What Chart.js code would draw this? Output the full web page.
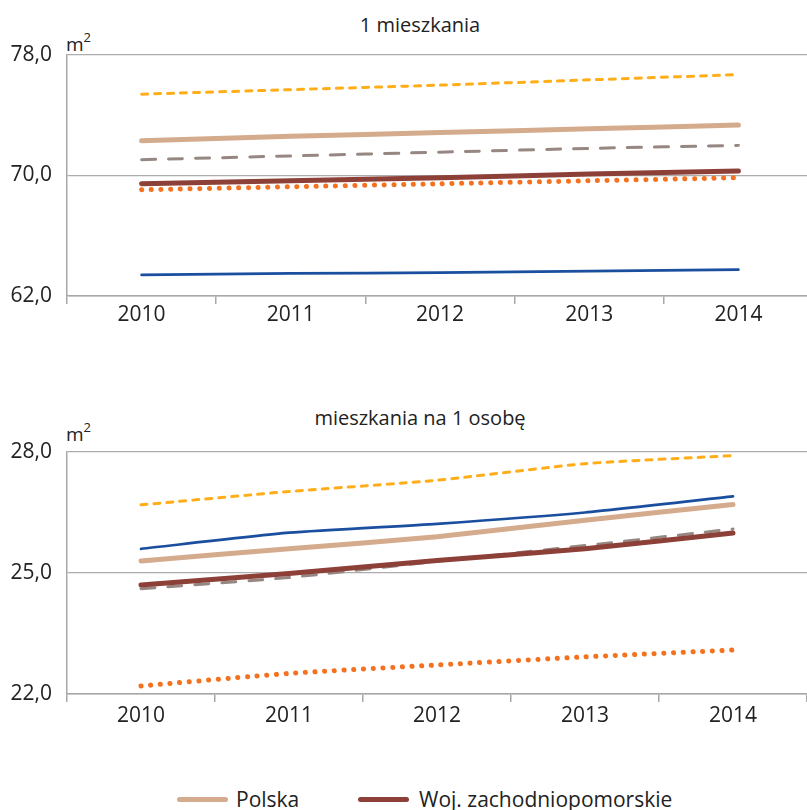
<!DOCTYPE html>
<html>
<head>
<meta charset="utf-8">
<script src="https://cdn.jsdelivr.net/npm/chart.js@4.4.1/dist/chart.umd.min.js"></script>
<style>
  html, body { margin: 0; padding: 0; background: #fff; overflow: hidden; }
  body { width: 807px; height: 810px; position: relative; font-family: 'Open Sans', sans-serif; color: #222; }
  .box { position: absolute; left: 0; }
  .title { position: absolute; width: 840px; left: 0; text-align: center; font-size: 20px; line-height: 24px; }
  .unit { position: absolute; left: 66px; font-size: 19px; line-height: 22px; }
  .unit sup { font-size: 13px; position: relative; top: -2px; }
  .legend { position: absolute; top: 786px; left: 0; font-size: 21px; line-height: 26px; }
  .item { position: absolute; white-space: nowrap; }
  .swatch { position: absolute; top: 11px; height: 5px; border-radius: 3px; }
</style>
</head>
<body>

<div class="title" style="top:13px">1 mieszkania</div>
<div class="unit" style="top:28px">m<sup>2</sup></div>
<div class="box" style="top:0"><canvas id="chartFlat" width="813" height="340"></canvas></div>

<div class="title" style="top:406px">mieszkania na 1 osobę</div>
<div class="unit" style="top:418px">m<sup>2</sup></div>
<div class="box" style="top:400px"><canvas id="chartPerson" width="807" height="340"></canvas></div>

<div class="legend">
  <div class="item" style="left:177px"><span class="swatch" style="left:0;width:51px;background:#D5AB8D"></span><span style="position:absolute;left:59px">Polska</span></div>
  <div class="item" style="left:358px"><span class="swatch" style="left:0;width:51px;background:#8C4038"></span><span style="position:absolute;left:61px">Woj. zachodniopomorskie</span></div>
</div>

<script>
const years = ["2010", "2011", "2012", "2013", "2014"];

// average usable floor area of 1 dwelling (m2)
const flatPolska = [72.3, 72.6, 72.85, 73.1, 73.35];
const flatWoj = [69.45, 69.65, 69.85, 70.1, 70.3];
const flatYellow = [75.4, 75.7, 76.0, 76.35, 76.7];
const flatGray = [71.05, 71.3, 71.55, 71.8, 72.0];
const flatOrange = [69.05, 69.25, 69.45, 69.65, 69.85];
const flatBlue = [63.4, 63.5, 63.55, 63.65, 63.75];

// usable floor area per 1 person (m2)
const personPolska = [25.3, 25.6, 25.9, 26.31, 26.7];
const personWoj = [24.7, 24.99, 25.31, 25.6, 25.99];
const personYellow = [26.69, 27.02, 27.3, 27.71, 27.91];
const personGray = [24.61, 24.89, 25.29, 25.68, 26.09];
const personOrange = [22.2, 22.51, 22.72, 22.92, 23.09];
const personBlue = [25.6, 26.0, 26.22, 26.5, 26.9];

const flatTicks = [62, 70, 78];
const personTicks = [22, 25, 28];

Chart.defaults.font.family = "'Open Sans', sans-serif";
Chart.defaults.font.size = 21;
Chart.defaults.color = "#222";

function makeDatasets(p, w, y, g, o, b) {
  return [
    { label: "Polska", data: p, borderColor: "#D5AB8D", borderWidth: 5, borderCapStyle: "round" },
    { label: "Woj. zachodniopomorskie", data: w, borderColor: "#8C4038", borderWidth: 5, borderCapStyle: "round" },
    { label: "seria 3", data: y, borderColor: "#FFAE1A", borderWidth: 3, borderDash: [6, 7], borderCapStyle: "round" },
    { label: "seria 4", data: g, borderColor: "#968782", borderWidth: 3, borderDash: [14, 13], borderCapStyle: "round" },
    { label: "seria 5", data: o, borderColor: "#F4711F", borderWidth: 5, borderDash: [0.1, 9.6], borderCapStyle: "round" },
    { label: "seria 6", data: b, borderColor: "#1A4F9F", borderWidth: 2.7, borderCapStyle: "round" }
  ];
}

function makeChart(id, datasets, ticks, topPad, axisHeight, labelPad) {
  return new Chart(document.getElementById(id), {
    type: "line",
    data: { labels: years, datasets: datasets },
    options: {
      responsive: false,
      animation: false,
      layout: { padding: { top: topPad, left: 0, right: 0, bottom: 0 } },
      elements: {
        point: { radius: 0 },
        line: { tension: 0.2, fill: false, borderJoinStyle: "round" }
      },
      plugins: { legend: { display: false }, tooltip: { enabled: false } },
      scales: {
        x: {
          offset: true,
          grid: { offset: true, drawOnChartArea: false, drawTicks: true, tickLength: 8, color: "#A8A8A8", lineWidth: 1.5 },
          border: { display: true, color: "#A8A8A8", width: 1.5 },
          ticks: { padding: labelPad, maxRotation: 0 },
          afterFit: s => { s.height = axisHeight; }
        },
        y: {
          min: ticks[0],
          max: ticks[ticks.length - 1],
          afterBuildTicks: s => { s.ticks = ticks.map(v => ({ value: v })); },
          grid: { drawTicks: false, color: "#ADADAD", lineWidth: 1.2 },
          border: { display: true, color: "#A8A8A8", width: 1.5 },
          ticks: { padding: 15, callback: v => v.toFixed(1).replace(".", ",") },
          afterFit: s => { s.width = 67; }
        }
      }
    }
  });
}

makeChart("chartFlat", makeDatasets(flatPolska, flatWoj, flatYellow, flatGray, flatOrange, flatBlue), flatTicks, 55, 44, -2);
makeChart("chartPerson", makeDatasets(personPolska, personWoj, personYellow, personGray, personOrange, personBlue), personTicks, 52, 46, 1);
</script>
</body>
</html>
